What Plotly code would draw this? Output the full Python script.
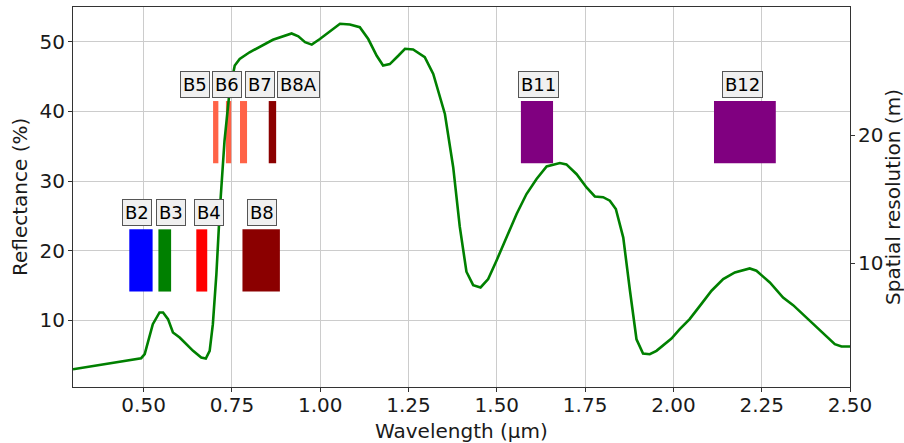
import plotly.graph_objects as go

# Vegetation reflectance spectrum
wavelength = [0.30, 0.394, 0.493, 0.503, 0.526, 0.545, 0.555, 0.569, 0.583, 0.602,
              0.6255, 0.640, 0.663, 0.676, 0.687, 0.696, 0.706, 0.715, 0.729, 0.7435,
              0.758, 0.772, 0.800, 0.838, 0.866, 0.919, 0.938, 0.957, 0.976, 0.999,
              1.032, 1.056, 1.084, 1.112, 1.136, 1.160, 1.178, 1.197, 1.221, 1.240,
              1.263, 1.296, 1.320, 1.353, 1.3765, 1.395, 1.414, 1.433, 1.454, 1.4755,
              1.499, 1.528, 1.556, 1.584, 1.6125, 1.641, 1.6785, 1.697, 1.726, 1.754,
              1.7775, 1.801, 1.820, 1.837, 1.858, 1.877, 1.8955, 1.914, 1.933, 1.952,
              1.9945, 2.018, 2.046, 2.075, 2.108, 2.141, 2.174, 2.216, 2.235, 2.273,
              2.3105, 2.339, 2.367, 2.405, 2.433, 2.457, 2.476, 2.50]
reflectance = [3.0, 3.8, 4.58, 5.16, 9.47, 11.15, 11.15, 10.19, 8.28, 7.56,
               6.36, 5.64, 4.68, 4.54, 5.64, 9.47, 16.65, 25.28, 35.8, 43.0,
               46.6, 47.55, 48.5, 49.5, 50.3, 51.2, 50.8, 49.95, 49.6, 50.4,
               51.7, 52.6, 52.5, 52.1, 50.4, 48.0, 46.6, 46.8, 48.0, 49.0,
               48.9, 47.8, 45.4, 39.65, 32.0, 23.5, 17.0, 15.07, 14.74, 15.94,
               18.58, 21.93, 25.28, 28.15, 30.3, 32.1, 32.6, 32.4, 31.0, 29.1,
               27.8, 27.7, 27.2, 26.0, 21.9, 14.27, 7.3, 5.26, 5.16, 5.64,
               7.41, 8.75, 10.19, 12.1, 14.27, 15.94, 16.9, 17.47, 17.14, 15.46,
               13.3, 12.2, 10.9, 9.0, 7.8, 6.6, 6.26, 6.26]
assert len(wavelength) == len(reflectance)

# Sentinel-2 bands
band_names = ["B2", "B3", "B4", "B5", "B6", "B7", "B8", "B8A", "B11", "B12"]
band_center = [0.4924, 0.5598, 0.6646, 0.7041, 0.7405, 0.7828, 0.8328, 0.8647, 1.6137, 2.2024]
band_width = [0.066, 0.036, 0.031, 0.015, 0.015, 0.020, 0.106, 0.021, 0.091, 0.175]
band_resolution = [10, 10, 10, 20, 20, 20, 10, 20, 20, 20]
band_color = ["blue", "green", "red", "tomato", "tomato", "tomato", "darkred", "darkred", "purple", "purple"]
label_xshift = [-4, 6, 7, -21, -2, 16, 1, 26, 2, -2]

x_ticks = [0.50, 0.75, 1.00, 1.25, 1.50, 1.75, 2.00, 2.25, 2.50]
y_ticks = [10, 20, 30, 40, 50]
y2_ticks = [10, 20]

x_title = "Wavelength (µm)"
y_title = "Reflectance (%)"
y2_title = "Spatial resolution (m)"

FONT = "DejaVu Sans"
TXT = "#1a1a1a"
LOW, HIGH = 2.2, 2.65

fig = go.Figure()
# placeholder on primary axis so it is drawn
fig.add_trace(go.Scatter(x=[wavelength[0]], y=[reflectance[0]], mode="markers",
                         marker=dict(opacity=0), yaxis="y", hoverinfo="skip"))
fig.add_trace(go.Bar(
    x=band_center, width=band_width,
    base=[r - LOW for r in band_resolution],
    y=[LOW + HIGH for _ in band_resolution],
    marker=dict(color=band_color, line=dict(width=0)),
    yaxis="y2", hoverinfo="skip"))
fig.add_trace(go.Scatter(x=wavelength, y=reflectance, mode="lines",
                         line=dict(color="green", width=2.6), yaxis="y3"))

for name, c, r, dx in zip(band_names, band_center, band_resolution, label_xshift):
    fig.add_annotation(x=c, y=r + HIGH, xref="x", yref="y2", text=name,
                       showarrow=False, yanchor="bottom", xanchor="center",
                       xshift=dx, yshift=3,
                       font=dict(family=FONT, size=18, color="black"),
                       bgcolor="#f0f0f0", bordercolor="#555555",
                       borderwidth=1, borderpad=2)

# axis titles
title_font = dict(family=FONT, size=20, color=TXT)
fig.add_annotation(x=0.5, y=0, xref="paper", yref="paper", text=x_title, showarrow=False,
                   xanchor="center", yanchor="middle", yshift=-44, font=title_font)
fig.add_annotation(x=0, y=0.5, xref="paper", yref="paper", text=y_title, showarrow=False,
                   xanchor="center", yanchor="middle", xshift=-53, textangle=-90, font=title_font)
fig.add_annotation(x=1, y=0.5, xref="paper", yref="paper", text=y2_title, showarrow=False,
                   xanchor="center", yanchor="middle", xshift=43, textangle=-90, font=title_font)

axis_common = dict(showline=True, linecolor="#333333", linewidth=1.2,
                   ticks="outside", ticklen=4, tickcolor="#333333",
                   tickfont=dict(family=FONT, size=20, color=TXT),
                   zeroline=False, automargin=False)

fig.update_layout(
    width=904, height=443,
    margin=dict(l=73, r=54, t=7, b=56),
    paper_bgcolor="white", plot_bgcolor="white",
    showlegend=False, barmode="overlay",
    xaxis=dict(range=[0.3, 2.5], tickvals=x_ticks, tickformat=".2f",
               showgrid=True, gridcolor="#cccccc", gridwidth=1, mirror=True,
               ticklabelstandoff=-4, **axis_common),
    yaxis=dict(range=[0.45, 55.0], tickvals=y_ticks, showgrid=True,
               gridcolor="#cccccc", gridwidth=1, mirror=True,
               ticklabelstandoff=-1, **axis_common),
    yaxis2=dict(range=[0.36, 29.98], tickvals=y2_ticks, overlaying="y", side="right",
                showgrid=False, ticklabelstandoff=-1, **axis_common),
    yaxis3=dict(range=[0.45, 55.0], overlaying="y", visible=False, showgrid=False),
)

fig.write_html("out.html")
